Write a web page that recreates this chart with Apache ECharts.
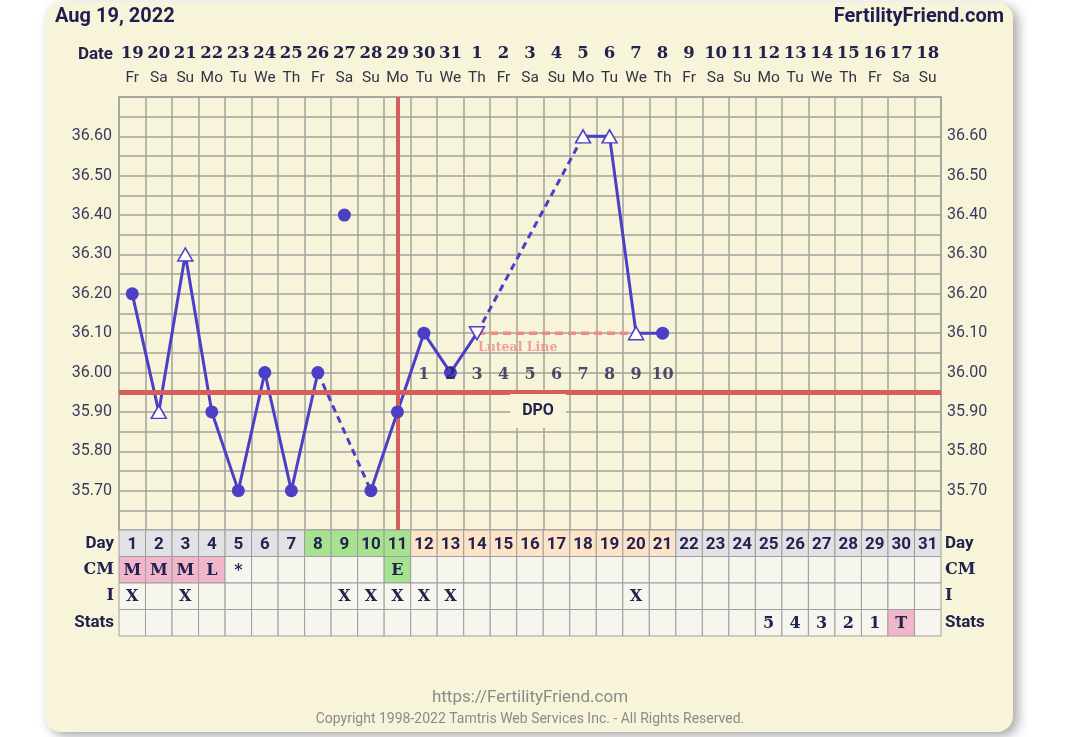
<!DOCTYPE html>
<html>
<head>
<meta charset="utf-8">
<script src="https://cdn.jsdelivr.net/npm/echarts/dist/echarts.min.js"></script>
<style>
  html, body { margin: 0; padding: 0; background: #fff; }
  #card { position: absolute; left: 45px; top: 2px; width: 968px; height: 730px;
          background: #f8f4da; border-radius: 16px; box-shadow: 5px 4px 12px rgba(0,0,0,0.35); }
  #chart { position: absolute; left: 0; top: 0; width: 1080px; height: 737px; }
</style>
</head>
<body>
<div id="card"></div>
<div id="chart"></div>
<script>
// cycle days and calendar labels
const cycleDays = ['1','2','3','4','5','6','7','8','9','10','11','12','13','14','15','16',
  '17','18','19','20','21','22','23','24','25','26','27','28','29','30','31'];
const dateNums = ['19','20','21','22','23','24','25','26','27','28','29','30','31','1','2','3',
  '4','5','6','7','8','9','10','11','12','13','14','15','16','17','18'];
const weekdays = ['Fr','Sa','Su','Mo','Tu','We','Th','Fr','Sa','Su','Mo','Tu','We','Th','Fr','Sa',
  'Su','Mo','Tu','We','Th','Fr','Sa','Su','Mo','Tu','We','Th','Fr','Sa','Su'];

// temperatures (days 1..21), null = no reading
const temps = [36.20, 35.90, 36.30, 35.90, 35.70, 36.00, 35.70, 36.00, 36.40, 35.70, 35.90,
  36.10, 36.00, 36.10, null, null, null, 36.60, 36.60, 36.10, 36.10];
// c = normal, u = open (questionable), d = open marker pointing down
const tempMarks = ['c','u','u','c','c','c','c','c','c','c','c','c','c','d',null,null,null,'u','u','u','c'];
const discardedDays = [9];

const coverline = 35.955;
const ovulationDay = '11';
const lutealTemp = 36.10;
const lutealDays = [14, 20];
const dpoLabels = ['1','2','3','4','5','6','7','8','9','10'];
const dpoFirstDay = 12;
const dpoRowTemp = 35.995;

// table rows
const rowNames = ['Day', 'CM', 'I', 'Stats'];
const dayPhase = ['','','','','','','','fertile','fertile','fertile','fertile',
  'luteal','luteal','luteal','luteal','luteal','luteal','luteal','luteal','luteal','luteal',
  '','','','','','','','','',''];
const cmValues = ['M','M','M','L','*','','','','','','E','','','','','','','','','','',
  '','','','','','','','','',''];
const intercourseDays = [1, 3, 9, 10, 11, 12, 13, 20];
const statsValues = ['','','','','','','','','','','','','','','','','','','','','',
  '','','','5','4','3','2','1','T',''];

const ink = '#22224e';
const lineColor = '#4b3fc8';
const gridGrey = '#a3a39c';
const redLine = '#d65f5c';
const serif = 'DejaVu Serif';

// build series data
const solid = temps.map((t, i) => discardedDays.includes(i + 1) ? null : t);
const gapSeries = [];
let last = -1;
solid.forEach((t, i) => {
  if (t == null) return;
  if (last >= 0 && i - last > 1) {
    const d = cycleDays.map(() => null);
    d[last] = solid[last];
    d[i] = t;
    gapSeries.push(d);
  }
  last = i;
});

const markerData = temps.map((t, i) => {
  if (t == null) return null;
  const m = tempMarks[i];
  if (m === 'c') {
    return { value: t, symbol: 'circle', symbolSize: 13, itemStyle: { color: lineColor, opacity: 1 } };
  }
  return {
    value: t, symbol: 'triangle', symbolSize: [15, 13], symbolRotate: m === 'd' ? 180 : 0,
    itemStyle: { color: '#fff', borderColor: lineColor, borderWidth: 1.5, opacity: 1 }
  };
});

const lutealData = cycleDays.map((d, i) => (i + 1 >= lutealDays[0] && i + 1 <= lutealDays[1]) ? lutealTemp : null);
const lutealLabelData = cycleDays.map((d, i) => i + 1 === lutealDays[0] ? lutealTemp : null);
const dpoData = cycleDays.map((d, i) => {
  const k = i + 1 - dpoFirstDay;
  return (k >= 0 && k < dpoLabels.length) ? dpoRowTemp : null;
});

const phaseColor = { fertile: '#a6e290', luteal: '#fde3c8', '': '#e2e2e6' };
const cellFill = '#f6f5ee';
const pink = '#f2b6cb';

const tableCells = [];
const tableData = [];
rowNames.forEach((r, row) => {
  tableCells.push(cycleDays.map((d, col) => {
    if (row === 0) return { text: d, fill: phaseColor[dayPhase[col]], font: 'Roboto', size: 17 };
    if (row === 1) {
      const v = cmValues[col];
      const fill = (v === 'M' || v === 'L') ? pink : (v === 'E' ? phaseColor.fertile : cellFill);
      return { text: v, fill: fill, font: serif, size: 16 };
    }
    if (row === 2) return { text: intercourseDays.includes(col + 1) ? 'X' : '', fill: cellFill, font: serif, size: 16 };
    const s = statsValues[col];
    return { text: s, fill: s === 'T' ? pink : cellFill, font: serif, size: 16 };
  }));
  cycleDays.forEach((d, col) => tableData.push([col, row]));
});

function renderCell(params, api) {
  const col = api.value(0), row = api.value(1);
  const p = api.coord([col, row]);
  const s = api.size([1, 1]);
  const c = tableCells[row][col];
  return {
    type: 'group',
    children: [
      { type: 'rect', shape: { x: p[0] - s[0] / 2, y: p[1] - s[1] / 2, width: s[0], height: s[1] },
        style: { fill: c.fill, stroke: '#9e9e9e', lineWidth: 1 } },
      { type: 'text', style: { x: p[0], y: p[1] + 1, text: c.text, align: 'center', verticalAlign: 'middle',
        fontFamily: c.font, fontWeight: 'bold', fontSize: c.size, fill: ink } }
    ]
  };
}

const tempLabel = v => {
  const c = Math.round(v * 100);
  return (c % 10 === 0 && c > 3560 && c < 3670) ? (c / 100).toFixed(2) : '';
};

const rowLabelStyle = {
  Day: { fontFamily: 'Roboto', fontSize: 17 },
  CM: { fontFamily: serif, fontSize: 16 },
  I: { fontFamily: serif, fontSize: 16 },
  Stats: { fontFamily: 'Roboto', fontSize: 17 }
};
const rowAxisData = rowNames.map(n => ({ value: n, textStyle: rowLabelStyle[n] }));

const chart = echarts.init(document.getElementById('chart'));
chart.setOption({
  backgroundColor: 'transparent',
  animation: false,
  grid: [
    { left: 119, top: 97, width: 822, height: 433 },
    { left: 119, top: 530, width: 822, height: 106 }
  ],
  xAxis: [
    {
      gridIndex: 0, type: 'category', data: cycleDays, position: 'top', boundaryGap: true,
      axisLine: { show: true, lineStyle: { color: gridGrey, width: 1.5 } },
      axisTick: { show: false },
      axisLabel: {
        interval: 0, margin: 8,
        formatter: (v, i) => '{d|' + dateNums[i] + '}\n{w|' + weekdays[i] + '}',
        rich: {
          d: { fontFamily: serif, fontWeight: 'bold', fontSize: 16.5, color: ink, lineHeight: 27 },
          w: { fontFamily: 'Roboto', fontSize: 15.5, color: '#333344', lineHeight: 22 }
        }
      },
      splitLine: { show: true, interval: 0, lineStyle: { color: gridGrey, width: 1.5 } }
    },
    {
      gridIndex: 1, type: 'category', data: cycleDays, boundaryGap: true,
      axisLine: { show: false }, axisTick: { show: false }, axisLabel: { show: false }
    }
  ],
  yAxis: [
    {
      gridIndex: 0, type: 'value', min: 35.6, max: 36.7, interval: 0.05,
      axisLine: { show: true, lineStyle: { color: gridGrey, width: 1.5 } },
      axisTick: { show: false },
      axisLabel: { formatter: tempLabel, fontFamily: 'Roboto', fontSize: 16, color: '#3a3a5c', margin: 7 },
      splitLine: { lineStyle: { color: gridGrey, width: 1.5 } }
    },
    {
      gridIndex: 0, type: 'value', min: 35.6, max: 36.7, interval: 0.05, position: 'right',
      axisLine: { show: true, lineStyle: { color: gridGrey, width: 1.5 } },
      axisTick: { show: false },
      axisLabel: { formatter: tempLabel, fontFamily: 'Roboto', fontSize: 16, color: '#3a3a5c', margin: 6 },
      splitLine: { show: false }
    },
    {
      gridIndex: 1, type: 'category', data: rowAxisData, inverse: true,
      axisLine: { show: false }, axisTick: { show: false },
      axisLabel: { color: ink, fontWeight: 'bold', margin: 5 }
    },
    {
      gridIndex: 1, type: 'category', data: rowAxisData, inverse: true, position: 'right',
      axisLine: { show: false }, axisTick: { show: false },
      axisLabel: { color: ink, fontWeight: 'bold', margin: 4 }
    }
  ],
  series: [
    {
      name: 'coverline', type: 'line', data: [], z: 1, silent: true,
      markLine: {
        symbol: ['none', 'none'], silent: true, label: { show: false },
        data: [
          { yAxis: coverline, lineStyle: { color: redLine, width: 5, type: 'solid' } },
          { xAxis: ovulationDay, lineStyle: { color: redLine, width: 4, type: 'solid' } }
        ]
      }
    },
    {
      name: 'luteal', type: 'line', data: lutealData, showSymbol: false, z: 2,
      lineStyle: { color: '#f08a86', width: 3.5, type: [8, 5] }
    },
    {
      name: 'temps', type: 'line', data: solid, showSymbol: false, connectNulls: false, z: 3,
      lineStyle: { color: lineColor, width: 3 }
    },
    ...gapSeries.map(d => ({
      type: 'line', data: d, showSymbol: false, connectNulls: true, z: 3,
      lineStyle: { color: lineColor, width: 3, type: [7, 5] }
    })),
    {
      name: 'markers', type: 'scatter', data: markerData, z: 5
    },
    {
      name: 'dpo', type: 'scatter', data: dpoData, symbolSize: 0, z: 6,
      label: {
        show: true, position: 'inside', formatter: p => dpoLabels[p.dataIndex - (dpoFirstDay - 1)],
        fontFamily: serif, fontWeight: 'bold', fontSize: 16, color: ink
      }
    },
    {
      name: 'lutealLabel', type: 'scatter', data: lutealLabelData, symbolSize: 0, z: 6,
      label: {
        show: true, position: [1, 8], align: 'left', verticalAlign: 'top', formatter: 'Luteal Line',
        fontFamily: serif, fontWeight: 'bold', fontSize: 12.5, color: '#f08a86'
      }
    },
    {
      name: 'table', type: 'custom', xAxisIndex: 1, yAxisIndex: 2, data: tableData,
      renderItem: renderCell, encode: { x: 0, y: 1 }
    }
  ],
  graphic: [
    { type: 'text', left: 55, top: 7, style: { text: 'Aug 19, 2022', fontFamily: 'Roboto', fontWeight: 'bold', fontSize: 20, fill: '#1e1e50' } },
    { type: 'text', right: 76, top: 7, style: { text: 'FertilityFriend.com', fontFamily: 'Roboto', fontWeight: 'bold', fontSize: 20, fill: '#1e1e50' } },
    { type: 'text', x: 113, y: 55, style: { text: 'Date', align: 'right', verticalAlign: 'middle', fontFamily: 'Roboto', fontWeight: 'bold', fontSize: 17, fill: ink } },
    { type: 'text', x: 538, y: 411, z: 10, style: { text: 'DPO', align: 'center', verticalAlign: 'middle', fontFamily: 'Roboto', fontWeight: 'bold', fontSize: 16, fill: ink, backgroundColor: '#f8f4da', padding: [9, 12] } },
    { type: 'text', x: 530, y: 698, style: { text: 'https://FertilityFriend.com', align: 'center', verticalAlign: 'middle', fontFamily: 'Roboto', fontSize: 17, fill: '#8a8a8a' } },
    { type: 'text', x: 530, y: 719, style: { text: 'Copyright 1998-2022 Tamtris Web Services Inc. - All Rights Reserved.', align: 'center', verticalAlign: 'middle', fontFamily: 'Roboto', fontSize: 14, fill: '#8a8a8a' } }
  ]
});
</script>
</body>
</html>
